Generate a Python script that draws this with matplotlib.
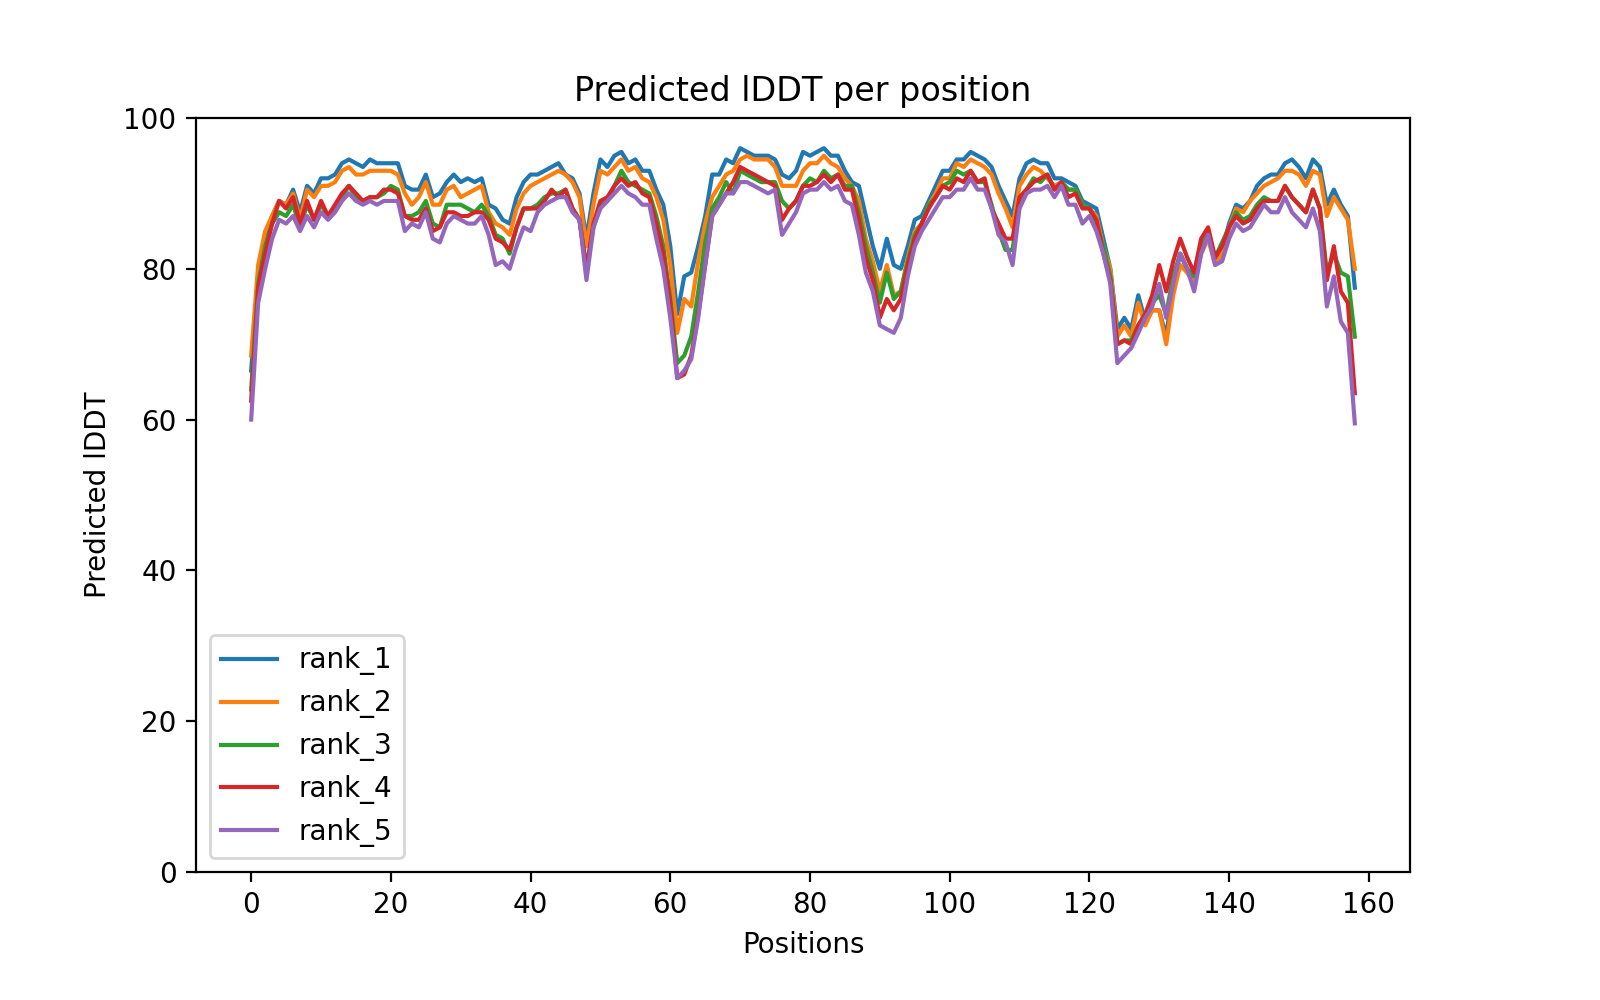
import matplotlib
matplotlib.use("Agg")
import matplotlib.pyplot as plt
import numpy as np

rank_1 = [66.5, 79, 84.5, 87, 89, 88.5, 90.5, 87.5, 91, 90, 92, 92, 92.5, 94, 94.5, 94, 93.5, 94.5, 94, 94,
          94, 94, 91, 90.5, 90.5, 92.5, 89.5, 90, 91.5, 92.5, 91.5, 92, 91.5, 92, 88.5, 88, 86.5, 86, 89.5, 91.5,
          92.5, 92.5, 93, 93.5, 94, 92.5, 92, 90, 84, 90, 94.5, 93.5, 95, 95.5, 94, 94.5, 93, 93, 90.5, 88.5,
          83, 74, 79, 79.5, 83, 87, 92.5, 92.5, 94.5, 94, 96, 95.5, 95, 95, 95, 94.5, 92.5, 92, 93, 95.5,
          95, 95.5, 96, 95, 95, 93, 91.5, 91, 87, 83, 80, 84, 80.5, 80, 83, 86.5, 87, 89, 91, 93,
          93, 94.5, 94.5, 95.5, 95, 94.5, 93.5, 91, 89, 87, 92, 94, 94.5, 94, 94, 92, 92, 91.5, 91, 89,
          88.5, 88, 84, 80, 72, 73.5, 72, 76.5, 73, 74.5, 74.5, 71, 78, 82, 80, 78, 82.5, 84.5, 81, 82.5,
          86, 88.5, 88, 89, 91, 92, 92.5, 92.5, 94, 94.5, 93.5, 92, 94.5, 93.5, 88.5, 90.5, 88.5, 87, 77.5]
rank_2 = [68.5, 80.5, 85, 87, 89, 88.5, 90, 86.5, 90.5, 89.5, 91, 91, 91.5, 93, 93.5, 92.5, 92.5, 93, 93, 93,
          93, 92.5, 90, 88.5, 89.5, 91.5, 88.5, 88.5, 90.5, 91, 89.5, 90, 90.5, 91, 87.5, 86, 85.5, 84.5, 88, 90,
          91, 91.5, 92, 92.5, 93, 92.5, 91.5, 89.5, 83, 88.5, 93, 92.5, 93.5, 94.5, 93, 93.5, 92, 91.5, 89.5, 86.5,
          80.5, 71.5, 76, 75, 81, 86, 89.5, 91, 92.5, 93, 94.5, 95, 94.5, 94.5, 94.5, 93.5, 91, 91, 91, 93,
          94, 94, 95, 94, 93.5, 92, 91, 89, 84, 81, 77, 80.5, 76.5, 77, 81.5, 85, 86, 88.5, 90, 92,
          92, 94, 93.5, 94.5, 94, 93.5, 92.5, 90, 88, 85.5, 91, 92.5, 93.5, 93, 92, 91, 91.5, 90.5, 90.5, 88.5,
          88, 87, 83, 80, 71, 72.5, 71, 75.5, 72.5, 74.5, 74.5, 70, 76.5, 80.5, 79.5, 78, 82, 84, 80.5, 82,
          85.5, 88, 87.5, 89, 90, 91, 91.5, 92, 93, 93, 92.5, 91, 93, 92.5, 87, 89.5, 88, 86.5, 80]
rank_3 = [64, 78, 83, 86, 87.5, 87, 88.5, 85.5, 88.5, 86.5, 88.5, 87, 88, 89.5, 91, 89.5, 89, 89.5, 89.5, 90,
          91, 90.5, 87, 87, 87.5, 89, 86, 85.5, 88.5, 88.5, 88.5, 88, 87.5, 88.5, 87, 84.5, 84, 82, 85.5, 88,
          88, 88.5, 89.5, 90, 90, 90.5, 88, 86.5, 80, 85.5, 88.5, 89, 91, 93, 91.5, 91, 90.5, 90, 87, 83,
          76, 67.5, 68.5, 71, 77, 83.5, 88, 89.5, 91.5, 90, 93, 92.5, 92, 91.5, 91.5, 91.5, 89, 88, 89, 91,
          92, 91.5, 93, 92, 92.5, 91, 91, 87.5, 83, 79.5, 75.5, 79.5, 76, 77, 81, 84.5, 86, 88.5, 89.5, 91,
          91.5, 93, 92.5, 93, 91.5, 91.5, 88.5, 85, 82.5, 82.5, 89, 90.5, 92, 91.5, 92.5, 90.5, 91.5, 90.5, 90.5, 88.5,
          88, 86, 83, 79, 70, 70.5, 70.5, 72.5, 74, 75.5, 76.5, 74, 79, 82, 80, 79, 83, 84.5, 81.5, 83.5,
          85.5, 87.5, 86.5, 87, 88.5, 89.5, 89, 89, 91, 89.5, 88.5, 87.5, 90.5, 88, 79.5, 82, 79.5, 79, 71]
rank_4 = [62.5, 77.5, 82, 86, 89, 88, 89.5, 86, 89, 86.5, 89, 87, 88.5, 90, 91, 90, 89, 89.5, 89.5, 90.5,
          90.5, 90, 87, 86.5, 86.5, 88, 85, 85.5, 87.5, 87.5, 87, 87, 87.5, 87.5, 86.5, 84, 83.5, 82.5, 85.5, 88,
          88, 88, 89, 90.5, 89.5, 90.5, 88, 86.5, 80, 86, 89, 89.5, 91, 92, 91, 91.5, 90, 89.5, 86, 82,
          75.5, 65.5, 66, 68.5, 74, 80.5, 87, 88.5, 90, 91.5, 93.5, 93, 92.5, 92, 91.5, 91, 86.5, 88, 89, 91,
          91, 91.5, 92.5, 91.5, 92.5, 90.5, 90.5, 86.5, 81.5, 78.5, 73.5, 76, 74.5, 76, 80.5, 84, 86, 88, 89.5, 91,
          90.5, 92, 91.5, 93, 91.5, 92, 88, 86, 84, 84, 89.5, 90.5, 91.5, 92, 92.5, 90.5, 91.5, 89.5, 90, 88,
          88, 86.5, 82, 78.5, 70, 70.5, 70, 72.5, 74, 76.5, 80.5, 77, 81, 84, 81.5, 79.5, 84, 85.5, 81.5, 83,
          85.5, 87, 86, 86.5, 88, 89, 89, 89, 91, 89.5, 88.5, 87.5, 90.5, 88, 78.5, 83, 77, 75.5, 63.5]
rank_5 = [60, 75.5, 80, 84, 86.5, 86, 87, 85, 87, 85.5, 87.5, 86.5, 87.5, 89, 90, 89, 88.5, 89, 88.5, 89,
          89, 89, 85, 86, 85.5, 87.5, 84, 83.5, 86, 87, 86.5, 86, 86, 87, 84.5, 80.5, 81, 80, 83, 85.5,
          85, 87.5, 88.5, 89, 89.5, 89.5, 87.5, 86.5, 78.5, 85.5, 88, 89, 90, 91, 90, 89.5, 88.5, 88.5, 84, 80,
          73.5, 65.5, 66.5, 68, 73.5, 80.5, 87, 88.5, 90, 90, 91.5, 91.5, 91, 90.5, 90, 90.5, 84.5, 86, 87.5, 90,
          90.5, 90.5, 91.5, 90.5, 91, 89, 88.5, 84.5, 79.5, 77, 72.5, 72, 71.5, 73.5, 79, 83, 85, 86.5, 88, 89.5,
          89.5, 90.5, 90.5, 92, 90.5, 90.5, 88, 84.5, 83.5, 80.5, 88, 90, 90.5, 90.5, 91, 89.5, 91, 88.5, 88.5, 86,
          87, 85, 82, 78, 67.5, 68.5, 69.5, 71.5, 73.5, 75, 78, 73.5, 78, 82, 80, 77, 82, 84.5, 80.5, 81,
          84, 86, 85, 85.5, 87, 88.5, 87.5, 87.5, 89.5, 87.5, 86.5, 85.5, 88, 85, 75, 79, 73, 71.5, 59.5]

series = [("rank_1", rank_1), ("rank_2", rank_2), ("rank_3", rank_3), ("rank_4", rank_4), ("rank_5", rank_5)]

fig = plt.figure(figsize=(8, 5), dpi=200)
ax = fig.add_axes([0.1225, 0.128, 0.75875, 0.754])
for name, vals in series:
    ax.plot(np.arange(len(vals)), vals, label=name)
ax.set_ylim(0, 100)
ax.set_title("Predicted lDDT per position")
ax.set_xlabel("Positions")
ax.set_ylabel("Predicted lDDT")
ax.legend(loc="lower left")
fig.savefig("out.png")
